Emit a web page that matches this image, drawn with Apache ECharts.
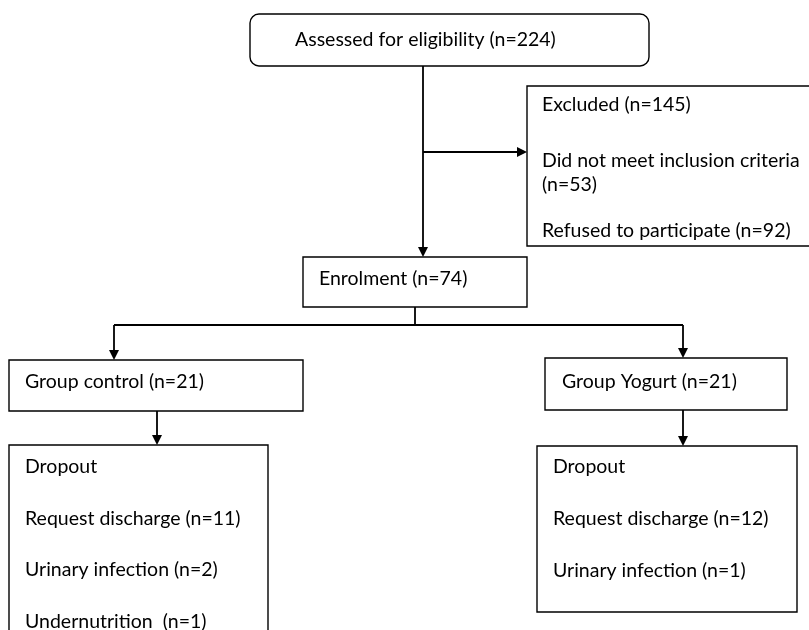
<!DOCTYPE html>
<html>
<head>
<meta charset="utf-8">
<script src="https://cdn.jsdelivr.net/npm/echarts@6/dist/echarts.min.js"></script>
<style>
    html, body { margin: 0; padding: 0; background: #fff; }
    #chart { width: 809px; height: 630px; }
</style>
</head>
<body>
<div id="chart"></div>
<script>
// flow counts
const screenLabel = 'Assessed for eligibility';
const screenCount = 224;
const excludedLabel = 'Excluded';
const excludedCount = 145;
const excludedReasons = ['Did not meet inclusion criteria', 'Refused to participate'];
const excludedCounts = [53, 92];
const enrolLabel = 'Enrolment';
const enrolCount = 74;
const groupNames = ['Group control', 'Group Yogurt'];
const groupCounts = [21, 21];
const dropoutLabel = 'Dropout';
const dropoutControl = ['Request discharge', 'Urinary infection', 'Undernutrition '];
const dropoutControlCounts = [11, 2, 1];
const dropoutYogurt = ['Request discharge', 'Urinary infection'];
const dropoutYogurtCounts = [12, 1];

const n = v => '(n=' + v + ')';
const FONT = '19.5px Lato';

// layout: rect = [x0, y0, x1, y1], lines = [x, baseline, text]
const boxes = [
    { rect: [250, 14, 649, 66], r: 9, lines: [[295, 46, screenLabel + ' ' + n(screenCount)]] },
    { rect: [527, 86, 812, 246], lines: [
        [542, 111, excludedLabel + ' ' + n(excludedCount)],
        [542, 167, excludedReasons[0]],
        [542, 191, n(excludedCounts[0])],
        [542, 237, excludedReasons[1] + ' ' + n(excludedCounts[1])]
    ] },
    { rect: [303, 257, 527, 307], lines: [[319, 285, enrolLabel + ' ' + n(enrolCount)]] },
    { rect: [9, 360, 303, 411], lines: [[25, 388, groupNames[0] + ' ' + n(groupCounts[0])]] },
    { rect: [545, 358, 787, 410], lines: [[562, 388, groupNames[1] + ' ' + n(groupCounts[1])]] },
    { rect: [9, 445, 268, 640], lines: [[25, 473, dropoutLabel]].concat(
        dropoutControl.map((s, i) => [25, 525 + i * 51.5, s + ' ' + n(dropoutControlCounts[i])])
    ) },
    { rect: [537, 446, 797, 612], lines: [[553, 473, dropoutLabel]].concat(
        dropoutYogurt.map((s, i) => [553, 525 + i * 52, s + ' ' + n(dropoutYogurtCounts[i])])
    ) }
];

const links = [
    { pts: [[423, 66], [423, 257]], arrow: true },
    { pts: [[423, 152], [527, 152]], arrow: true },
    { pts: [[415, 307], [415, 325]] },
    { pts: [[114, 325], [683, 325]] },
    { pts: [[114, 325], [114, 360]], arrow: true },
    { pts: [[683, 325], [683, 358]], arrow: true },
    { pts: [[157, 411], [157, 445]], arrow: true },
    { pts: [[683, 410], [683, 446]], arrow: true }
];

const chart = echarts.init(document.getElementById('chart'));

function renderBox(params, api) {
    const b = boxes[params.dataIndex];
    const p0 = api.coord([b.rect[0], b.rect[1]]);
    const p1 = api.coord([b.rect[2], b.rect[3]]);
    const children = [{
        type: 'rect',
        shape: { x: p0[0], y: p0[1], width: p1[0] - p0[0], height: p1[1] - p0[1], r: b.r || 0 },
        style: { fill: '#fff', stroke: '#000', lineWidth: 1.4 }
    }];
    b.lines.forEach(l => {
        const p = api.coord([l[0], l[1]]);
        children.push({
            type: 'text',
            style: {
                text: l[2], x: p[0], y: p[1] - 6.5,
                font: FONT, fill: '#000',
                align: 'left', verticalAlign: 'middle'
            }
        });
    });
    return { type: 'group', children: children };
}

function renderLink(params, api) {
    const lk = links[params.dataIndex];
    const pts = lk.pts.map(p => api.coord(p));
    const children = [];
    if (lk.arrow) {
        const a = pts[pts.length - 2], t = pts[pts.length - 1];
        const dx = t[0] - a[0], dy = t[1] - a[1];
        const len = Math.sqrt(dx * dx + dy * dy);
        const ux = dx / len, uy = dy / len;
        const hl = 10, hw = 5;
        const base = [t[0] - ux * hl, t[1] - uy * hl];
        pts[pts.length - 1] = base;
        children.push({
            type: 'polygon',
            shape: { points: [t, [base[0] - uy * hw, base[1] + ux * hw], [base[0] + uy * hw, base[1] - ux * hw]] },
            style: { fill: '#000' }
        });
    }
    children.unshift({
        type: 'polyline',
        shape: { points: pts },
        style: { stroke: '#000', lineWidth: 1.8, fill: null }
    });
    return { type: 'group', children: children };
}

const option = {
    animation: false,
    backgroundColor: '#fff',
    grid: { left: 0, right: 0, top: 0, bottom: 0 },
    xAxis: { type: 'value', min: 0, max: 809, show: false },
    yAxis: { type: 'value', min: 0, max: 630, inverse: true, show: false },
    series: [
        {
            type: 'custom',
            clip: false,
            renderItem: renderLink,
            data: links.map((l, i) => [l.pts[0][0], l.pts[0][1]])
        },
        {
            type: 'custom',
            clip: false,
            renderItem: renderBox,
            data: boxes.map(b => [b.rect[0], b.rect[1]])
        }
    ]
};
chart.setOption(option);
</script>
</body>
</html>
